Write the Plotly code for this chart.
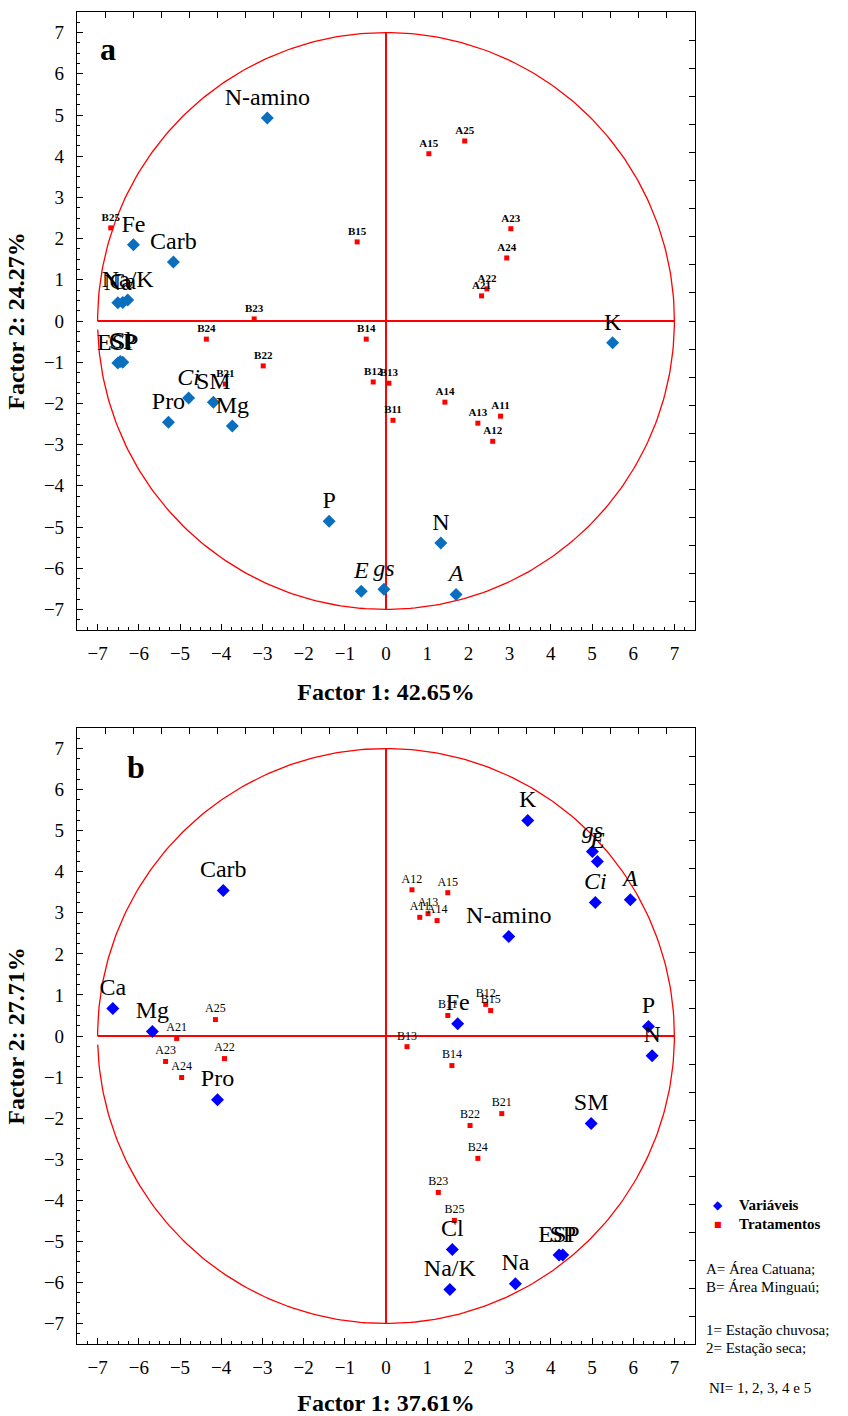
import numpy as np
import plotly.graph_objects as go

# ---------------- data ----------------
# Panel a
a_var_names = ["N-amino", "Fe", "Carb", "Na", "Ca", "Na/K", "ESP", "Cl", "SP", "<i>Ci</i>", "SM",
               "Pro", "Mg", "P", "N", "<i>E</i>", "<i>gs</i>", "<i>A</i>", "K"]
a_var_x = [-2.88, -6.13, -5.16, -6.51, -6.39, -6.27, -6.51, -6.45, -6.39, -4.79, -4.19,
           -5.28, -3.73, -1.38, 1.33, -0.60, -0.05, 1.70, 5.50]
a_var_y = [4.93, 1.85, 1.43, 0.44, 0.45, 0.51, -1.02, -0.98, -1.00, -1.87, -1.97,
           -2.46, -2.55, -4.86, -5.39, -6.56, -6.51, -6.64, -0.53]

a_trt_names = ["A25", "A15", "A23", "A24", "A22", "A21", "B15", "B14", "B12", "B13", "B11",
               "A14", "A13", "A11", "A12", "B25", "B23", "B24", "B22", "B21"]
a_trt_x = [1.91, 1.04, 3.03, 2.93, 2.45, 2.32, -0.70, -0.48, -0.31, 0.07, 0.17,
           1.43, 2.23, 2.78, 2.59, -6.68, -3.20, -4.36, -2.98, -3.90]
a_trt_y = [4.37, 4.06, 2.24, 1.53, 0.78, 0.61, 1.92, -0.44, -1.48, -1.51, -2.41,
           -1.97, -2.48, -2.31, -2.92, 2.26, 0.05, -0.44, -1.09, -1.53]

# Panel b
b_var_names = ["K", "<i>gs</i>", "<i>E</i>", "<i>Ci</i>", "<i>A</i>", "N-amino", "Carb", "Ca", "Mg",
               "Pro", "Fe", "P", "N", "SM", "Cl", "Na/K", "Na", "ESP", "SP"]
b_var_x = [3.44, 5.01, 5.13, 5.08, 5.93, 2.98, -3.95, -6.63, -5.67,
           -4.09, 1.74, 6.37, 6.46, 4.98, 1.61, 1.55, 3.14, 4.20, 4.29]
b_var_y = [5.25, 4.49, 4.25, 3.25, 3.32, 2.42, 3.54, 0.67, 0.11,
           -1.55, 0.30, 0.23, -0.48, -2.13, -5.20, -6.17, -6.03, -5.33, -5.33]

b_trt_names = ["A12", "A15", "A11", "A13", "A14", "A25", "A21", "A23", "A22", "A24",
               "B11", "B12", "B15", "B13", "B14", "B21", "B22", "B24", "B23", "B25"]
b_trt_x = [0.63, 1.50, 0.82, 1.02, 1.24, -4.14, -5.08, -5.35, -3.92, -4.96,
           1.50, 2.42, 2.54, 0.51, 1.60, 2.81, 2.04, 2.23, 1.27, 1.66]
b_trt_y = [3.56, 3.49, 2.89, 2.98, 2.81, 0.40, -0.06, -0.62, -0.55, -1.01,
           0.50, 0.77, 0.62, -0.26, -0.72, -1.89, -2.18, -2.98, -3.81, -4.49]

axis_ticks = list(range(-7, 8))
radius = 7
x_titles = ["<b>Factor 1: 42.65%</b>", "<b>Factor 1: 37.61%</b>"]
y_titles = ["<b>Factor 2: 24.27%</b>", "<b>Factor 2: 27.71%</b>"]

SERIF = "Times New Roman, Liberation Serif, serif"

fig = go.Figure()

# circle of radius 7 with the small break at its leftmost point, as in the original
theta = np.concatenate([np.linspace(0, np.pi, 181), [np.nan], np.linspace(np.pi + 0.03, 2 * np.pi, 181)])
circ_x = radius * np.cos(theta)
circ_y = radius * np.sin(theta)

panels = [
    ("x", "y", a_var_names, a_var_x, a_var_y, a_trt_names, a_trt_x, a_trt_y, "#0b6fc0", True),
    ("x2", "y2", b_var_names, b_var_x, b_var_y, b_trt_names, b_trt_x, b_trt_y, "#0000ff", False),
]

for xa, ya, vn, vx, vy, tn, tx, ty, vcol, bold_trt in panels:
    fig.add_trace(go.Scatter(x=circ_x, y=circ_y, mode="lines", xaxis=xa, yaxis=ya, connectgaps=False,
                             line=dict(color="#ff0000", width=1.3), showlegend=False, hoverinfo="skip"))
    fig.add_trace(go.Scatter(x=[-radius, radius], y=[0, 0], mode="lines", xaxis=xa, yaxis=ya,
                             line=dict(color="#ff0000", width=2), showlegend=False, hoverinfo="skip"))
    fig.add_trace(go.Scatter(x=[0, 0], y=[-radius, radius], mode="lines", xaxis=xa, yaxis=ya,
                             line=dict(color="#ff0000", width=2), showlegend=False, hoverinfo="skip"))
    fig.add_trace(go.Scatter(
        x=tx, y=ty, mode="markers+text", xaxis=xa, yaxis=ya,
        text=[("<b>%s</b>" % t) if bold_trt else t for t in tn],
        textposition="top center",
        textfont=dict(family=SERIF, size=11 if bold_trt else 12, color="black"),
        marker=dict(symbol="square", size=5, color="#ff0000"),
        showlegend=False))
    fig.add_trace(go.Scatter(
        x=vx, y=vy, mode="markers+text", xaxis=xa, yaxis=ya,
        text=vn, textposition="top center",
        textfont=dict(family=SERIF, size=24, color="black"),
        marker=dict(symbol="diamond", size=10, color=vcol),
        showlegend=False))

# dummy traces so the secondary (top / right) frame-tick axes are drawn
for xa, ya in [("x3", "y3"), ("x4", "y4")]:
    fig.add_trace(go.Scatter(x=[None], y=[None], xaxis=xa, yaxis=ya, showlegend=False, hoverinfo="skip"))

W, H = 848, 1416
xdom = [77 / W, 695 / W]
ydoms = [[1 - 630 / H, 1 - 12 / H], [1 - 1344 / H, 1 - 728 / H]]


def xaxis_cfg(title, anchor):
    return dict(domain=xdom, range=[-7.5, 7.5], tickvals=axis_ticks, ticks="inside", ticklen=6,
                tickwidth=1, tickcolor="black", showgrid=False, zeroline=False,
                showline=True, linecolor="black", linewidth=1.2, mirror=True,
                minor=dict(dtick=0.25, ticks="inside", ticklen=3, tickcolor="black", showgrid=False),
                tickfont=dict(family=SERIF, size=19, color="black"),
                ticklabelstandoff=6,
                title=dict(text=title, font=dict(family=SERIF, size=24, color="black"), standoff=20),
                anchor=anchor)


def yaxis_cfg(title, dom, anchor):
    return dict(domain=dom, range=[-7.5, 7.5], tickvals=axis_ticks, ticks="inside", ticklen=6,
                tickwidth=1, tickcolor="black", showgrid=False, zeroline=False,
                showline=True, linecolor="black", linewidth=1.2, mirror=True,
                minor=dict(dtick=0.25, ticks="inside", ticklen=3, tickcolor="black", showgrid=False),
                tickfont=dict(family=SERIF, size=19, color="black"),
                ticklabelstandoff=8,
                title=dict(text=title, font=dict(family=SERIF, size=24, color="black"), standoff=12),
                anchor=anchor)


def frame_top(over, anchor):
    return dict(overlaying=over, anchor=anchor, side="top", range=[0, 22], dtick=1,
                ticks="inside", ticklen=6, tickcolor="black", showticklabels=False,
                showgrid=False, zeroline=False, showline=False)


def frame_right(over, anchor):
    return dict(overlaying=over, anchor=anchor, side="right", range=[0, 22], dtick=1,
                ticks="inside", ticklen=6, tickcolor="black", showticklabels=False,
                showgrid=False, zeroline=False, showline=False)


fig.update_layout(
    width=W, height=H, margin=dict(l=0, r=0, t=0, b=0),
    paper_bgcolor="white", plot_bgcolor="white",
    font=dict(family=SERIF, color="black"),
    xaxis=xaxis_cfg(x_titles[0], "y"),
    yaxis=yaxis_cfg(y_titles[0], ydoms[0], "x"),
    xaxis2=xaxis_cfg(x_titles[1], "y2"),
    yaxis2=yaxis_cfg(y_titles[1], ydoms[1], "x2"),
    xaxis3=frame_top("x", "y"),
    yaxis3=frame_right("y", "x"),
    xaxis4=frame_top("x2", "y2"),
    yaxis4=frame_right("y2", "x2"),
)

# panel letters
fig.add_annotation(x=-6.75, y=6.59, xref="x", yref="y", text="<b>a</b>", showarrow=False,
                   font=dict(family=SERIF, size=32, color="black"))
fig.add_annotation(x=-6.08, y=6.54, xref="x2", yref="y2", text="<b>b</b>", showarrow=False,
                   font=dict(family=SERIF, size=32, color="black"))


def px(xp, yp):
    return xp / W, 1 - yp / H


legend_items = [
    ("◆", 718, 1205, 12, "#0000ff", "center"),
    ("■", 718, 1224, 8, "#ff0000", "center"),
    ("<b>Variáveis</b>", 737, 1205, 15, "black", "left"),
    ("<b>Tratamentos</b>", 737, 1224, 15, "black", "left"),
    ("A= Área Catuana;", 704, 1269, 15, "black", "left"),
    ("B= Área Minguaú;", 704, 1287, 15, "black", "left"),
    ("1= Estação chuvosa;", 704, 1330, 15, "black", "left"),
    ("2= Estação seca;", 704, 1348, 15, "black", "left"),
    ("NI= 1, 2, 3, 4 e 5", 707, 1388, 15, "black", "left"),
]
for txt, xp, yp, sz, col, anc in legend_items:
    xx, yy = px(xp, yp)
    fam = "DejaVu Sans" if txt in ("◆", "■") else SERIF
    fig.add_annotation(x=xx, y=yy, xref="paper", yref="paper", text=txt, showarrow=False,
                       xanchor=anc, yanchor="middle", font=dict(family=fam, size=sz, color=col))

fig.write_html("out.html")
